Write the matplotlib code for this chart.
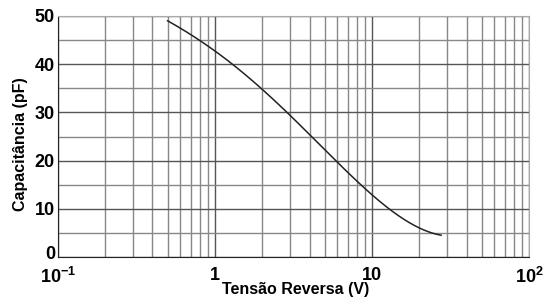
import matplotlib
matplotlib.use('Agg')
import matplotlib.pyplot as plt
import matplotlib.transforms as mtransforms
import numpy as np
from matplotlib.ticker import FixedLocator, NullFormatter

plt.rcParams['font.family'] = ['Liberation Sans', 'DejaVu Sans']
plt.rcParams['font.weight'] = 'bold'
plt.rcParams['mathtext.fontset'] = 'custom'
plt.rcParams['mathtext.rm'] = 'Liberation Sans:bold'
plt.rcParams['mathtext.bf'] = 'Liberation Sans:bold'

# curve
tensao = [0.5, 0.7, 1.0, 1.5, 2.0, 3.0, 4.0, 5.0, 6.0, 8.0, 10.0, 15.0, 20.0, 27.5]
capacitancia = [49.0, 46.1, 42.9, 38.0, 35.1, 29.5, 24.9, 22.2, 20.1, 15.6, 13.3, 8.1, 6.0, 4.6]

x_ticks = [0.1, 1, 10, 100]
x_labels = [r'$10^{-1}$', '1', '10', r'$10^{2}$']
y_ticks = [0, 10, 20, 30, 40, 50]

fig = plt.figure(figsize=(5.45, 3.01), dpi=100)
ax = fig.add_axes([0.106, 0.146, 0.865, 0.801])

# smooth through the read points in log-x
lx = np.log10(tensao)
xs = np.linspace(lx[0], lx[-1], 200)
coef = np.polyfit(lx, capacitancia, 4)
ax.plot(10 ** xs, np.polyval(coef, xs), color='#222222', lw=1.1)

ax.set_xscale('log')
ax.set_xlim(0.1, 100)
ax.set_ylim(0, 50)

minor = [m * d for d in [0.1, 1, 10] for m in range(2, 10)]
ax.xaxis.set_minor_locator(FixedLocator(minor))
ax.xaxis.set_minor_formatter(NullFormatter())
ax.set_xticks(x_ticks)
ax.set_xticklabels(x_labels)
ax.set_yticks(y_ticks)
ax.yaxis.set_minor_locator(FixedLocator([5, 15, 25, 35, 45]))

ax.grid(which='major', color='#555555', lw=1.0)
ax.grid(which='minor', color='#888888', lw=1.0)
ax.tick_params(which='both', length=0, labelsize=13)
ax.tick_params(axis='y', pad=2)
ax.tick_params(axis='x', pad=7)

# nudge the "0" label up a little so it clears 10^-1
lab0 = ax.get_yticklabels()[0]
lab0.set_transform(lab0.get_transform() +
                   mtransforms.ScaledTranslation(0, 3 / 72, fig.dpi_scale_trans))

for s in ['top', 'right']:
    ax.spines[s].set_color('#aaaaaa')
for s in ['left', 'bottom']:
    ax.spines[s].set_color('#222222')

fig.text(0.542, 0.022, 'Tensão Reversa (V)', fontsize=11.5, fontweight='bold',
         ha='center', va='baseline')
fig.text(0.038, 0.52, 'Capacitância (pF)', fontsize=11.5, fontweight='bold',
         ha='center', va='center', rotation=90)

fig.savefig('out.png', dpi=100)
